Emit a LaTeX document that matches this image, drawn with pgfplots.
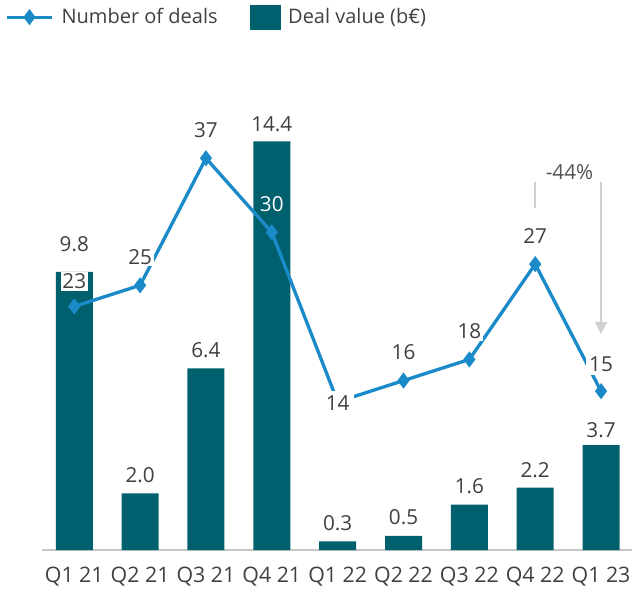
\documentclass[border=0pt]{standalone}
\usepackage{pgfplots}
\pgfplotsset{compat=1.18}
\usetikzlibrary{arrows.meta}
\usepackage{fontspec}
\setmainfont{Open Sans}
\definecolor{barc}{HTML}{00606E}
\definecolor{linec}{HTML}{1A8BC8}
\definecolor{txt}{HTML}{404040}
\definecolor{arr}{HTML}{D0D0D0}
\pgfplotsset{
  base/.style={scale only axis, width=442.5pt, height=337.5pt,
    at={(0pt,0pt)}, anchor=south west, xmin=-0.49, xmax=8.47, ymin=0, clip=false,
    /pgf/number format/assume math mode=true},
  linelegend/.style={legend image code/.code={\draw[mark repeat=2, mark phase=2, ##1] plot coordinates {(0pt,0pt) (16.875pt,0pt) (33.75pt,0pt)};}},
  barlegend/.style={legend image code/.code={\fill[barc] (0pt,-9pt) rectangle (22.5pt,9pt);}}
}
\begin{document}
\begin{tikzpicture}[font=\fontsize{15.5}{18}\selectfont]
\useasboundingbox (-31.5pt,-30pt) rectangle (442.5pt,412.5pt);
\begin{axis}[base, ymax=15.86,
  axis y line=none, axis x line=bottom,
  x axis line style={draw=black!22, line width=1.5pt, -},
  xtick={0,...,8}, xtick style={draw=none}, major tick length=0pt,
  xticklabels={Q1 21,Q2 21,Q3 21,Q4 21,Q1 22,Q2 22,Q3 22,Q4 22,Q1 23},
  xticklabel style={font=\fontsize{16}{19}\selectfont, text=txt, anchor=base, yshift=-24pt},
  ytick=\empty]
\addplot[ybar, bar width=27.75pt, fill=barc, draw=none]
  coordinates {(0,9.8) (1,2.0) (2,6.4) (3,14.4) (4,0.3) (5,0.5) (6,1.6) (7,2.2) (8,3.7)};
\begin{scope}[every node/.style={text=txt, anchor=center, inner sep=1pt}]
\node[yshift=21pt] at (axis cs:0,9.8) {9.8};
\node[yshift=13.5pt] at (axis cs:1,2.0) {2.0};
\node[yshift=14pt] at (axis cs:2,6.4) {6.4};
\node[yshift=13pt] at (axis cs:3,14.4) {14.4};
\node[yshift=14pt] at (axis cs:4,0.3) {0.3};
\node[yshift=14pt] at (axis cs:5,0.5) {0.5};
\node[yshift=14pt] at (axis cs:6,1.6) {1.6};
\node[yshift=13pt] at (axis cs:7,2.2) {2.2};
\node[yshift=11pt] at (axis cs:8,3.7) {3.7};
\end{scope}
\end{axis}
\begin{axis}[base, ymax=42.5, hide axis,
  legend style={at={(axis description cs:-0.0627,1.184)}, anchor=west, draw=none, fill=none,
    font=\fontsize{15}{18}\selectfont, text=txt, inner sep=0pt,
    /tikz/every odd column/.append style={column sep=4pt},
    /tikz/every even column/.append style={column sep=22pt}},
  legend columns=2, legend cell align=left]
\addplot[linec, line width=2.5pt, mark=diamond*, mark size=4pt, linelegend]
  coordinates {(0,23) (1,25) (2,37) (3,30) (4,14) (5,16) (6,18) (7,27) (8,15)};
\addlegendentry{Number of deals}
\addlegendimage{barlegend}
\addlegendentry{Deal value (b€)}
\end{axis}
\begin{axis}[base, ymax=42.5, hide axis]
\begin{scope}[every node/.style={text=txt, anchor=center, inner sep=1.2pt, fill=white}]
\node[yshift=18.75pt] at (axis cs:0,23) {23};
\node[yshift=21pt] at (axis cs:1,25) {25};
\node[yshift=21pt] at (axis cs:2,37) {37};
\node[yshift=21pt, fill=barc, text=white] at (axis cs:3,30) {30};
\node[inner sep=3.5pt, yshift=-1pt] at (axis cs:4,14) {14};
\node[yshift=21pt] at (axis cs:5,16) {16};
\node[yshift=21pt] at (axis cs:6,18) {18};
\node[yshift=21pt] at (axis cs:7,27) {27};
\node[yshift=20pt, inner sep=2.5pt] at (axis cs:8,15) {15};
\end{scope}
\draw[arr, line width=1.5pt] (axis cs:7,34.8) -- (axis cs:7,32.3);
\draw[arr, line width=1.5pt, -{Triangle[width=9pt,length=9pt]}] (axis cs:8,34.8) -- (axis cs:8,20.4);
\node[text=txt!90] at (axis cs:7.52,35.7) {-44\%};
\end{axis}
\end{tikzpicture}
\end{document}
